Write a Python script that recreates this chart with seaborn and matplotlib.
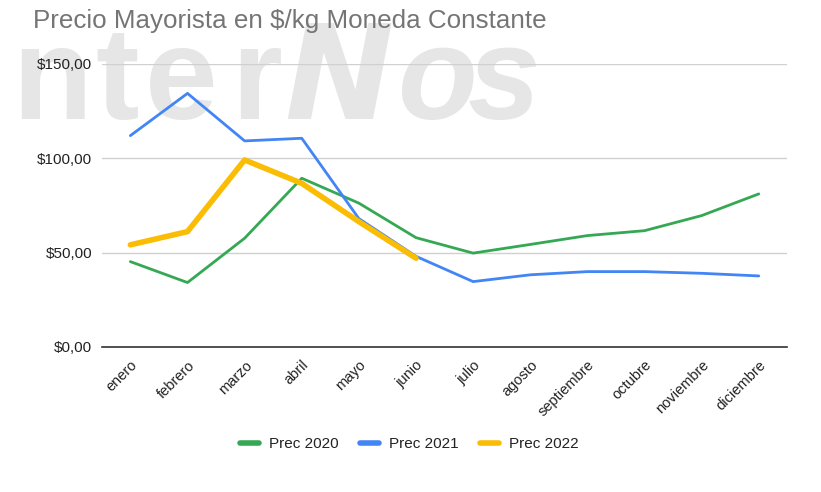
import numpy as np
import pandas as pd
import seaborn as sns
import matplotlib.pyplot as plt
from matplotlib.lines import Line2D

meses = ["enero", "febrero", "marzo", "abril", "mayo", "junio", "julio",
         "agosto", "septiembre", "octubre", "noviembre", "diciembre"]
prec_2020 = [45.2, 34.1, 57.6, 89.4, 76.2, 57.9, 49.7, 54.3, 59.0, 61.6, 69.6, 81.1]
prec_2021 = [112.0, 134.4, 109.2, 110.6, 68.0, 48.0, 34.6, 38.2, 39.9, 39.9, 39.0, 37.6]
prec_2022 = [54.1, 61.1, 99.1, 86.7, 66.4, 47.0]
y_ticks = [0, 50, 100, 150]

colores = {"Prec 2020": "#34A853", "Prec 2021": "#4285F4", "Prec 2022": "#FBBC04"}
anchos = {"Prec 2020": 2.0, "Prec 2021": 2.0, "Prec 2022": 4.0}

series = {"Prec 2020": prec_2020, "Prec 2021": prec_2021, "Prec 2022": prec_2022}
frames = []
for nombre, vals in series.items():
    frames.append(pd.DataFrame({"mes": meses[:len(vals)], "precio": vals, "serie": nombre}))
df = pd.concat(frames, ignore_index=True)

sns.set_theme(style="white")
plt.rcParams["font.family"] = ["Liberation Sans", "DejaVu Sans"]

W, H = 821, 492
fig = plt.figure(figsize=(W / 100, H / 100), dpi=100)
ax = fig.add_axes([0.124, 0.295, 0.835, 0.575])
ax.set_facecolor("none")

# watermark letters (logo), behind the axes
marca = [("n", 12, "normal", "Liberation Sans"), ("t", 95, "normal", "Liberation Sans"),
         ("e", 145, "normal", "Liberation Sans"), ("r", 231, "normal", "Liberation Sans"),
         ("N", 284, "oblique", "DejaVu Sans"), ("o", 398, "italic", "Liberation Sans"),
         ("s", 468, "italic", "Liberation Sans")]
for letra, px, estilo, fuente in marca:
    fig.text(px / W, 1 - 119 / H, letra, fontsize=94, fontweight="bold", fontstyle=estilo,
             family=fuente, color="#e6e6e6", ha="left", va="baseline", zorder=-1)

for nombre in series:
    sns.lineplot(data=df[df["serie"] == nombre], x="mes", y="precio", ax=ax,
                 color=colores[nombre], linewidth=anchos[nombre], sort=False,
                 zorder=3 if nombre == "Prec 2022" else 2)

ax.set_xlim(-0.5, len(meses) - 0.5)
ax.set_ylim(0, 150)
ax.set_yticks(y_ticks)
ax.set_yticklabels([f"${v},00" for v in y_ticks], fontsize=11, color="#222222")
ax.set_xticks(range(len(meses)))
ax.set_xticklabels(meses, rotation=45, ha="right", rotation_mode="anchor",
                   fontsize=10.5, color="#222222")
ax.tick_params(axis="y", length=0, pad=7)
ax.tick_params(axis="x", length=0, pad=8)
ax.grid(axis="y", color="#d0d0d0", linewidth=1)
ax.set_xlabel("")
ax.set_ylabel("")
for s in ["left", "right", "top"]:
    ax.spines[s].set_visible(False)
ax.spines["bottom"].set_color("#333333")
ax.spines["bottom"].set_linewidth(1.2)
ax.spines["bottom"].set_zorder(4)

handles = [Line2D([0], [0], color=colores[n], linewidth=4) for n in series]
fig.legend(handles, list(series), loc="center", bbox_to_anchor=(0.499, 0.097), ncol=3,
           frameon=False, fontsize=11, handlelength=1.2, columnspacing=1.4,
           handletextpad=0.7, labelcolor="#222222")

fig.text(0.04, 0.958, "Precio Mayorista en $/kg Moneda Constante", fontsize=18.7,
         color="#757575", ha="left", va="center")

fig.savefig("out.png", dpi=100)
